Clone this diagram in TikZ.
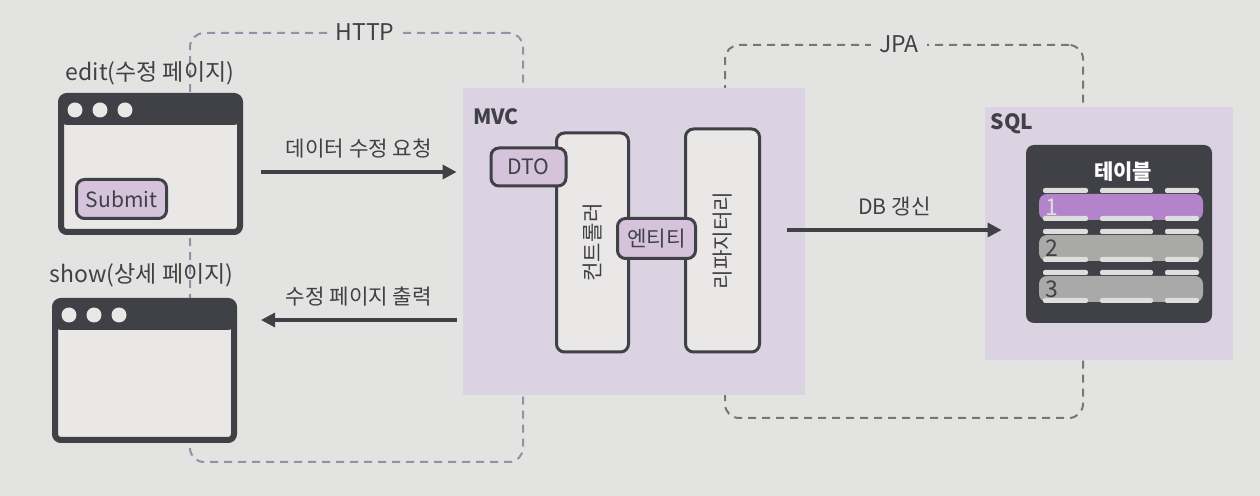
\documentclass[tikz,border=0pt]{standalone}
\usepackage{fontspec}
\setmainfont{Noto Sans CJK KR}
\usetikzlibrary{arrows.meta,positioning}
\definecolor{page}{HTML}{E3E3E1}
\definecolor{ink}{HTML}{404047}
\definecolor{paper}{HTML}{E9E8E6}
\definecolor{lilac}{HTML}{DBD2E2}
\definecolor{chipfill}{HTML}{D4C3DB}
\definecolor{rowpurple}{HTML}{B383CB}
\definecolor{rowgray}{HTML}{A9A9A7}
\definecolor{barwhite}{HTML}{DEDEDC}
\definecolor{httpline}{HTML}{9C8CA8}
\definecolor{jpaline}{HTML}{767676}
\tikzset{
    window/.style={draw=ink,line width=3pt,rounded corners=3pt,fill=paper,
        path picture={
            \fill[ink] (path picture bounding box.north west) rectangle ([yshift=-14.5pt]path picture bounding box.north east);
            \foreach \cx in {7pt,19.5pt,32pt}
                \fill[paper] ([shift={(\cx,-7pt)}]path picture bounding box.north west) circle (3.75pt);
        }},
    pagelabel/.style={font=\fontsize{11.5}{13}\selectfont},
    group/.style={dashed,dash pattern=on 4pt off 3pt,line width=1pt,rounded corners=7pt},
    grouplabel/.style={fill=page,inner xsep=4pt,text=ink,font=\fontsize{11.5}{13}\selectfont},
    panel/.style={fill=lilac},
    title/.style={text=ink,font=\fontsize{10.5}{12}\selectfont\bfseries},
    layer/.style={draw=ink,line width=1.5pt,rounded corners=4pt,fill=paper,rotate=90},
    chip/.style={draw=ink,line width=1.5pt,rounded corners=4pt,fill=chipfill,text=ink},
    dbtable/.style={fill=ink,rounded corners=4pt},
    dbrow/.style={rounded corners=4pt,minimum width=82pt,minimum height=13pt},
    flow/.style={-{Triangle[length=7pt,width=7pt]},draw=ink,line width=1.6pt}
}

\begin{document}
\begin{tikzpicture}[x=0.5pt,y=-0.5pt,font=\fontsize{10.6}{12}\selectfont,text=ink]

    \fill[page] (0,0) rectangle (1260,496);

    % dashed groups
    \node[group,draw=httpline,minimum width=166.5pt,minimum height=214.5pt] (http) at (356.5,247.5) {};
    \node[grouplabel] (http label) at ([xshift=4.25pt]http.north) {HTTP};
    \node[group,draw=jpaline,minimum width=179pt,minimum height=186.5pt] (jpa) at (904,231.5) {};
    \node[grouplabel] (jpa label) at ([xshift=-2.5pt]jpa.north) {JPA};

    % panels
    \node[panel,minimum width=171pt,minimum height=153.5pt] (mvc) at (634,241.5) {};
    \node[title] (mvc label) at (496,117) {MVC};
    \node[panel,minimum width=124pt,minimum height=126.5pt] (sql) at (1109,233.5) {};
    \node[title] (sql label) at (1012,124) {SQL};

    % browser pages
    \node[window,minimum width=89.5pt,minimum height=68pt] (edit page) at (150.5,164) {};
    \node[pagelabel] (edit label) at (150,73) {edit(수정 페이지)};
    \node[chip,minimum width=45pt,minimum height=19.5pt,font=\fontsize{10.5}{12}\selectfont] (submit) at (121.5,199) {Submit};
    \node[window,minimum width=89.5pt,minimum height=69.5pt] (show page) at (144.5,370.5) {};
    \node[pagelabel] (show label) at (141.5,275) {show(상세 페이지)};

    % mvc layers
    \node[layer,minimum width=109.5pt,minimum height=36pt] (controller) at (592.5,242.5) {컨트롤러};
    \node[layer,minimum width=111.5pt,minimum height=37pt] (repository) at (722.5,240.5) {리파지터리};
    \node[chip,minimum width=37.5pt,minimum height=19pt] (dto) at (528.5,167) {DTO};
    \node[chip,minimum width=39pt,minimum height=20pt] (entity) at (656.5,238.5) {엔티티};

    % table
    \node[dbtable,minimum width=93pt,minimum height=89pt] (table) at (1119,234) {};
    \node[text=white,font=\fontsize{10.5}{12}\selectfont\bfseries] (table title) at (1123,172) {테이블};
    \foreach \y/\c/\t/\tc [count=\i] in {207/rowpurple/1/barwhite,248/rowgray/2/ink,289/rowgray/3/ink} {
        \node[dbrow,fill=\c] (row \i) at (1121,\y) {};
        \foreach \a/\b in {1043/1088,1100/1153,1165/1199} {
            \fill[barwhite,rounded corners=1pt] (\a,\y-19) rectangle (\b,\y-14);
            \fill[barwhite,rounded corners=1pt] (\a,\y+9) rectangle (\b,\y+14);
        }
        \node[text=\tc,font=\fontsize{11.5}{13}\selectfont] (row label \i) at (1052,\y) {\t};
    }

    % requests
    \draw[flow] ([shift={(9pt,-4pt)}]edit page.east) coordinate (request start)
        -- ([xshift=-3pt]mvc.west |- request start) node[midway,above=3pt] (request label) {데이터 수정 요청};
    \draw[flow] ([shift={(-3pt,-39.25pt)}]mvc.west) coordinate (response start)
        -- ([xshift=12pt]show page.east |- response start) node[midway,above=3pt] (response label) {수정 페이지 출력};
    \draw[flow] ([shift={(-9pt,5.75pt)}]mvc.east) coordinate (update start)
        -- ([xshift=8.5pt]sql.west |- update start) node[midway,above=3pt] (update label) {DB 갱신};

\end{tikzpicture}
\end{document}
